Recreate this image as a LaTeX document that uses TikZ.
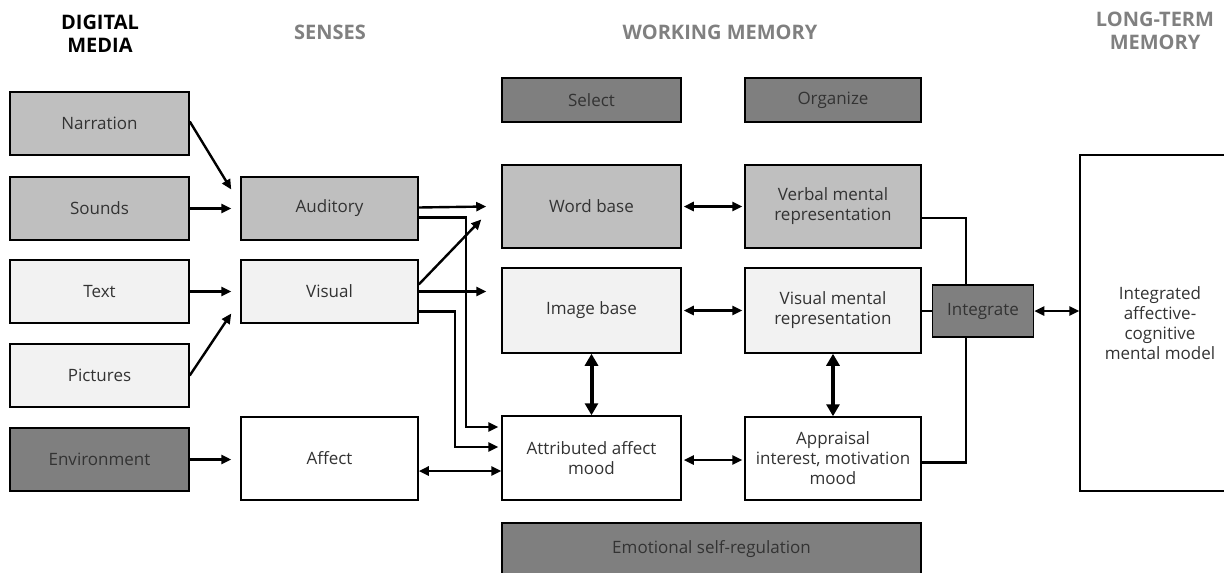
\documentclass[tikz,border=0pt]{standalone}
\usepackage{fontspec}
\setmainfont{Open Sans}
\usetikzlibrary{arrows.meta,calc}
\definecolor{gmid}{HTML}{BFBFBF}
\definecolor{glight}{HTML}{F2F2F2}
\definecolor{gdark}{HTML}{7F7F7F}
\definecolor{headgray}{HTML}{808080}
\definecolor{txtc}{HTML}{333333}
\begin{document}
\begin{tikzpicture}[x=1pt,y=-1pt,
  box/.style={draw=black,line width=1.5pt,rectangle,inner sep=2pt,align=center,
    text=txtc,font=\fontsize{17}{20}\selectfont},
  mid/.style={box,fill=gmid},
  light/.style={box,fill=glight},
  dark/.style={box,fill=gdark},
  white/.style={box,fill=white},
  sz/.style 2 args={minimum width=#1pt,minimum height=#2pt},
  head/.style={font=\fontsize{20}{23}\selectfont\bfseries,align=center,text=headgray},
  arr/.style={line width=2.4pt,-{Triangle[length=10pt,width=9pt]}},
  darr/.style={line width=2.4pt,{Triangle[length=10pt,width=9pt]}-{Triangle[length=10pt,width=9pt]}},
  tarr/.style={line width=4pt,{Triangle[length=12pt,width=13pt]}-{Triangle[length=12pt,width=13pt]}},
  ln/.style={line width=2.4pt}
]
\useasboundingbox (0,0) rectangle (1224,573);

% headers
\node[head,text=black] (hdm) at (100,34) {DIGITAL\\MEDIA};
\node[head] (hse) at (330,32) {SENSES};
\node[head] (hwm) at (720,32) {WORKING MEMORY};
\node[head] (hlt) at (1155,31) {LONG-TERM\\MEMORY};

% digital media
\node[mid,sz={179}{63}] (narr) at (99.5,123.5) {Narration};
\node[mid,sz={179}{63}] (snd) at (99.5,208.5) {Sounds};
\node[light,sz={179}{63}] (txt) at (99.5,291.5) {Text};
\node[light,sz={179}{63}] (pic) at (99.5,375.5) {Pictures};
\node[dark,sz={179}{63}] (env) at (99.5,459.5) {Environment};

% senses
\node[mid,sz={177}{63}] (aud) at (329.5,208.5) {Auditory};
\node[light,sz={177}{63}] (vis) at (329.5,291.5) {Visual};
\node[white,sz={177}{83}] (aff) at (329.5,458.5) {Affect};

% working memory
\node[dark,sz={179}{44}] (sel) at (591.5,100) {Select};
\node[dark,sz={176}{44}] (org) at (833,100) {Organize};
\node[mid,sz={179}{83}] (word) at (591.5,206.5) {Word base};
\node[light,sz={179}{85}] (img) at (591.5,310.5) {Image base};
\node[white,sz={179}{84}] (attr) at (591.5,458) {Attributed affect\\mood};
\node[mid,sz={176}{83}] (verb) at (833,206.5) {Verbal mental\\representation};
\node[light,sz={176}{85}] (vmr) at (833,310.5) {Visual mental\\representation};
\node[white,sz={176}{83}] (appr) at (833,458.5) {Appraisal\\interest, motivation\\mood};
\node[dark,sz={419}{52}] (emo) at (711.5,549) {Emotional self-regulation};
\node[dark,sz={101}{52}] (integ) at (983,311) {Integrate};

% long-term memory
\node[white,sz={160}{336}] (ltm) at (1160,323) {Integrated\\affective-\\cognitive\\mental model};

% media -> senses
\draw[arr] ($(narr.east)+(0,-2)$) -- ($(aud.west)+(-9,-19)$);
\draw[arr] (snd.east) -- ($(aud.west)+(-9,0)$);
\draw[arr] (txt.east) -- ($(vis.west)+(-9,0)$);
\draw[arr] (pic.east) -- ($(vis.west)+(-9,22)$);
\draw[arr] (env.east) -- ($(aff.west)+(-9,1)$);

% senses -> working memory
\draw[arr] ($(aud.east)+(0,-1)$) -- ($(word.west)+(-15,0)$);
\draw[arr] ($(aud.east)+(0,9)$) -- ++(47,0) |- ($(attr.west)+(-3,-31)$);
\draw[arr] ($(vis.east)+(0,-7)$) -- ($(word.west)+(-20,13)$);
\draw[arr] (vis.east) -- ($(img.west)+(-15,-19)$);
\draw[arr] ($(vis.east)+(0,20)$) -- ++(36,0) |- ($(attr.west)+(-3,-11)$);
\draw[darr] ($(aff.east)+(0,12.5)$) -- ($(attr.west)+(0,13)$);

% within working memory
\draw[darr] ($(word.east)+(2,0)$) -- ($(verb.west)+(-2,0)$);
\draw[darr] ($(img.east)+(2,0)$) -- ($(vmr.west)+(-2,0)$);
\draw[darr] ($(attr.east)+(2,2)$) -- ($(appr.west)+(-2,1.5)$);
\draw[tarr] (img.south) -- (attr.north);
\draw[tarr] (vmr.south) -- (appr.north);

% integrate
\draw[ln] ($(verb.east)+(0,11.5)$) -| ($(integ.north)+(-17,0)$);
\draw[ln] (vmr.east|-integ.west) -- (integ.west);
\draw[ln] ($(appr.east)+(0,4)$) -| ($(integ.south)+(-17,0)$);
\draw[darr] (integ.east) -- (integ.east-|ltm.west);
\end{tikzpicture}
\end{document}
